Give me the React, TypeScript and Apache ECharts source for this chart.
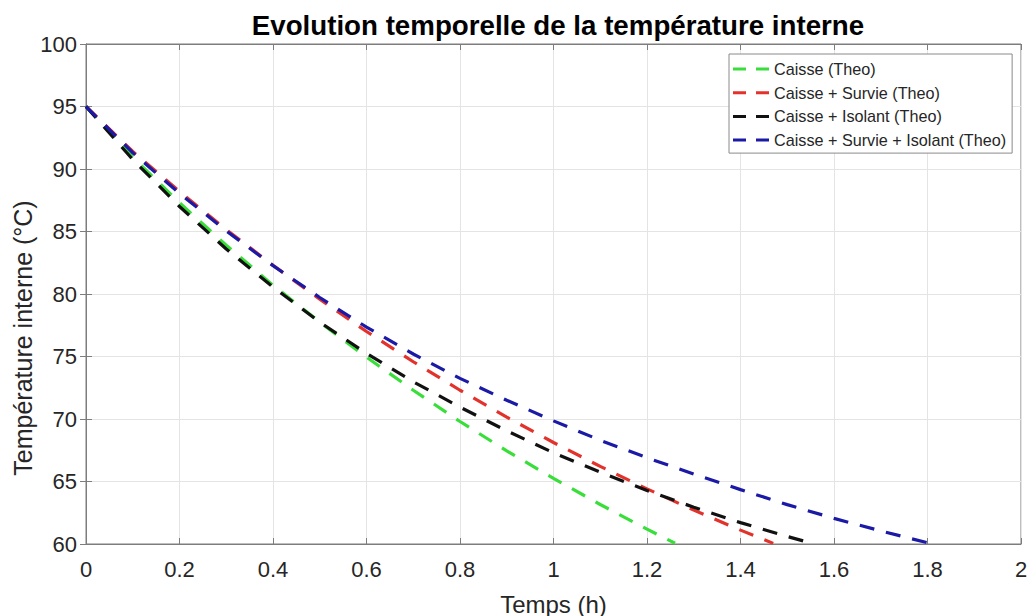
import { useEffect, useRef } from "react";
import * as echarts from "echarts";

const TITLE = "Evolution temporelle de la température interne";
const X_NAME = "Temps (h)";
const Y_NAME = "Température interne (°C)";

const NAMES = [
  "Caisse (Theo)",
  "Caisse + Survie (Theo)",
  "Caisse + Isolant (Theo)",
  "Caisse + Survie + Isolant (Theo)",
];
const COLORS = ["#3ade3a", "#e3322c", "#111111", "#1a1aa6"];

const T_GREEN = [0, 0.1, 0.2, 0.3, 0.4, 0.5, 0.6, 0.7, 0.8, 0.9, 1.0, 1.1, 1.2, 1.26];
const V_GREEN = [95, 90.95, 87.3, 83.9, 80.7, 77.75, 74.95, 72.3, 69.8, 67.45, 65.25, 63.16, 61.19, 60.06];

const T_RED = [0, 0.1, 0.2, 0.3, 0.4, 0.5, 0.6, 0.7, 0.8, 0.9, 1.0, 1.1, 1.2, 1.3, 1.4, 1.47];
const V_RED = [95, 91.4, 88.2, 85.15, 82.3, 79.58, 77.0, 74.58, 72.3, 70.15, 68.12, 66.21, 64.41, 62.71, 61.11, 60.05];

const T_BLACK = [0, 0.1, 0.2, 0.3, 0.4, 0.5, 0.6, 0.7, 0.8, 0.9, 1.0, 1.1, 1.2, 1.3, 1.4, 1.5, 1.55];
const V_BLACK = [95, 90.75, 87.0, 83.6, 80.55, 77.75, 75.25, 72.98, 70.95, 69.05, 67.3, 65.75, 64.28, 62.94, 61.71, 60.6, 60.08];

const T_BLUE = [0, 0.1, 0.2, 0.3, 0.4, 0.5, 0.6, 0.7, 0.8, 0.9, 1.0, 1.1, 1.2, 1.3, 1.4, 1.5, 1.6, 1.7, 1.8];
const V_BLUE = [95, 91.3, 88.05, 85.05, 82.27, 79.72, 77.35, 75.2, 73.25, 71.5, 69.85, 68.3, 66.9, 65.6, 64.35, 63.15, 62.05, 61.05, 60.1];

const X_MIN = 0, X_MAX = 2, X_STEP = 0.2;
const Y_MIN = 60, Y_MAX = 100, Y_STEP = 5;

const FONT = "'Liberation Sans', Arial, Helvetica, sans-serif";
const LEGEND_ICON = "path://M0,0h13v3h-13z M23,0h13v3h-13z";

function pairs(t: number[], v: number[]) {
  return t.map((x, i) => [x, v[i]]);
}

export default function App() {
  const ref = useRef<HTMLDivElement>(null);
  useEffect(() => {
    if (!ref.current) return;
    const chart = echarts.init(ref.current, null, { renderer: "svg" });
    const frame = "#7d7d7d";
    const gridLine = "#e4e4e4";
    const data = [
      pairs(T_GREEN, V_GREEN),
      pairs(T_RED, V_RED),
      pairs(T_BLACK, V_BLACK),
      pairs(T_BLUE, V_BLUE),
    ];
    chart.setOption({
      animation: false,
      backgroundColor: "#ffffff",
      title: {
        text: TITLE,
        left: 553,
        textAlign: "center",
        top: 6,
        textStyle: { fontFamily: FONT, fontSize: 27.7, fontWeight: "bold", color: "#000" },
      },
      legend: {
        orient: "vertical",
        left: 729,
        top: 54,
        icon: LEGEND_ICON,
        itemWidth: 36,
        itemHeight: 3,
        itemGap: 5.7,
        padding: [6, 6, 4, 4],
        borderColor: "#8a8a8a",
        borderWidth: 1,
        backgroundColor: "#ffffff",
        textStyle: { fontFamily: FONT, fontSize: 16.2, color: "#262626", lineHeight: 18 },
        data: NAMES,
      },
      grid: {
        left: 86,
        right: 10,
        top: 44,
        bottom: 72,
        outerBoundsMode: "none",
        show: true,
        borderColor: frame,
        borderWidth: 1,
        backgroundColor: "#ffffff",
      },
      graphic: [
        {
          type: "text",
          x: 23,
          y: 338,
          rotation: Math.PI / 2,
          style: {
            text: Y_NAME,
            fontFamily: FONT,
            fontSize: 25,
            fill: "#262626",
            textAlign: "center",
            textVerticalAlign: "middle",
          },
        },
      ],
      xAxis: [
        {
          type: "value",
          min: X_MIN,
          max: X_MAX,
          interval: X_STEP,
          name: X_NAME,
          nameLocation: "middle",
          nameGap: 48,
          nameTextStyle: { fontFamily: FONT, fontSize: 24, color: "#262626" },
          axisLine: { show: true, lineStyle: { color: frame, width: 1 } },
          axisTick: { show: true, inside: true, length: 6, lineStyle: { color: frame } },
          axisLabel: { fontFamily: FONT, fontSize: 22, color: "#262626", margin: 14 },
          splitLine: { show: true, lineStyle: { color: gridLine, width: 1 } },
        },
        {
          type: "value",
          position: "top",
          min: X_MIN,
          max: X_MAX,
          interval: X_STEP,
          axisLine: { show: true, lineStyle: { color: frame, width: 1 } },
          axisTick: { show: true, inside: true, length: 6, lineStyle: { color: frame } },
          axisLabel: { show: false },
          splitLine: { show: false },
        },
      ],
      yAxis: [
        {
          type: "value",
          min: Y_MIN,
          max: Y_MAX,
          interval: Y_STEP,
          axisLine: { show: true, lineStyle: { color: frame, width: 1 } },
          axisTick: { show: true, inside: true, length: 6, lineStyle: { color: frame } },
          axisLabel: { fontFamily: FONT, fontSize: 22, color: "#262626", margin: 9 },
          splitLine: { show: true, lineStyle: { color: gridLine, width: 1 } },
        },
        {
          type: "value",
          position: "right",
          min: Y_MIN,
          max: Y_MAX,
          interval: Y_STEP,
          axisLine: { show: true, lineStyle: { color: frame, width: 1 } },
          axisTick: { show: true, inside: true, length: 6, lineStyle: { color: frame } },
          axisLabel: { show: false },
          splitLine: { show: false },
        },
      ],
      series: NAMES.map((name, i) => ({
        name,
        type: "line",
        xAxisIndex: 0,
        yAxisIndex: 0,
        data: data[i],
        showSymbol: false,
        symbol: "none",
        smooth: false,
        color: COLORS[i],
        itemStyle: { color: COLORS[i] },
        lineStyle: { color: COLORS[i], width: 3.2, type: [15, 12] },
        z: 2 + i,
      })),
    });
    return () => chart.dispose();
  }, []);
  return (
    <div
      ref={ref}
      style={{ position: "absolute", left: 0, top: 0, width: 1031, height: 616 }}
    />
  );
}
